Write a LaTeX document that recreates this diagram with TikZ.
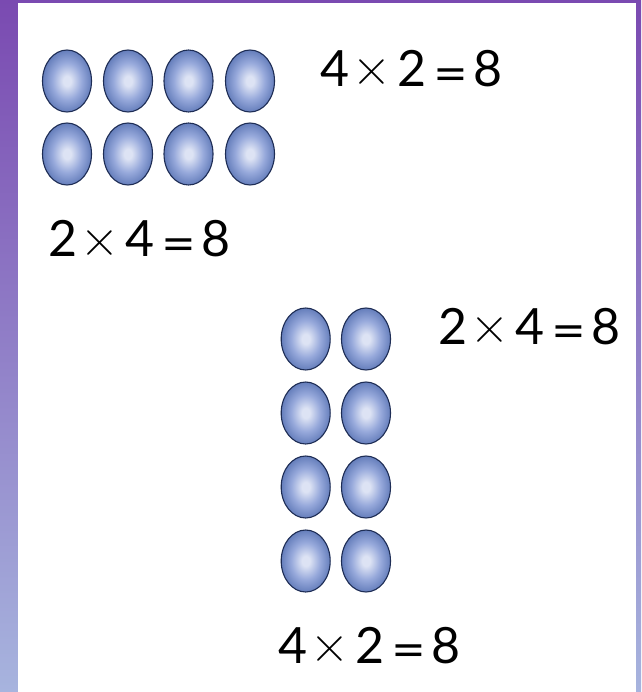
\documentclass[tikz,border=0pt]{standalone}
\usepackage{fontspec}
\setmainfont{Lato}
\newfontfamily\lmfont{Latin Modern Roman}
\usetikzlibrary{shapes.geometric}
\definecolor{purpletop}{HTML}{7A4AB1}
\definecolor{purplebot}{HTML}{A7B4DE}
\definecolor{ballout}{HTML}{4764A8}
\definecolor{ballmid}{HTML}{97A9DB}
\definecolor{ballin}{HTML}{DDE3F4}
\definecolor{ballline}{HTML}{1E2D55}
\pgfdeclareradialshading{ballshade}{\pgfpoint{0bp}{0bp}}{%
  color(0bp)=(ballin); color(4bp)=(ballin); color(15bp)=(ballmid); color(31bp)=(ballout); color(50bp)=(ballout)}
\newcommand\mulsign{\hspace{3pt}\raisebox{1pt}{\lmfont\fontsize{54}{60}\selectfont ×}\hspace{6pt}}
\newcommand\eqsign{\hspace{7pt}\raisebox{-4.5pt}{\scalebox{1.2}[1]{=}}\hspace{6pt}}
\tikzset{
  ball/.style={ellipse, minimum width=49pt, minimum height=62pt, inner sep=0pt,
    draw=ballline, line width=1.1pt, shading=ballshade},
  eqn/.style={anchor=base west, inner sep=0pt, font=\fontsize{50}{60}\selectfont, text=black}
}
\begin{document}
\begin{tikzpicture}[x=1pt,y=-1pt]
\useasboundingbox (0,0) rectangle (641,692);
\shade[top color=purpletop, bottom color=purplebot] (0,0) rectangle (641,692);
\fill[white] (18,3) rectangle (636,692);
% top grid 2 rows x 4 columns
\foreach \c/\x in {1/67,2/128,3/188.5,4/250}{
  \node[ball] (a1\c) at (\x,81) {};
  \node[ball] (a2\c) at (\x,154) {};
}
\node[eqn] (eqa) at (320,87) {4\mulsign 2\eqsign 8};
\node[eqn] (eqb) at (48,257) {2\mulsign 4\eqsign 8};
% right grid 4 rows x 2 columns
\foreach \r/\y in {1/339,2/413,3/487,4/561}{
  \node[ball] (b\r1) at (305.7,\y) {};
  \node[ball] (b\r2) at (366,\y) {};
}
\node[eqn] (eqc) at (438,344) {2\mulsign 4\eqsign 8};
\node[eqn] (eqd) at (278,663) {4\mulsign 2\eqsign 8};
\end{tikzpicture}
\end{document}
